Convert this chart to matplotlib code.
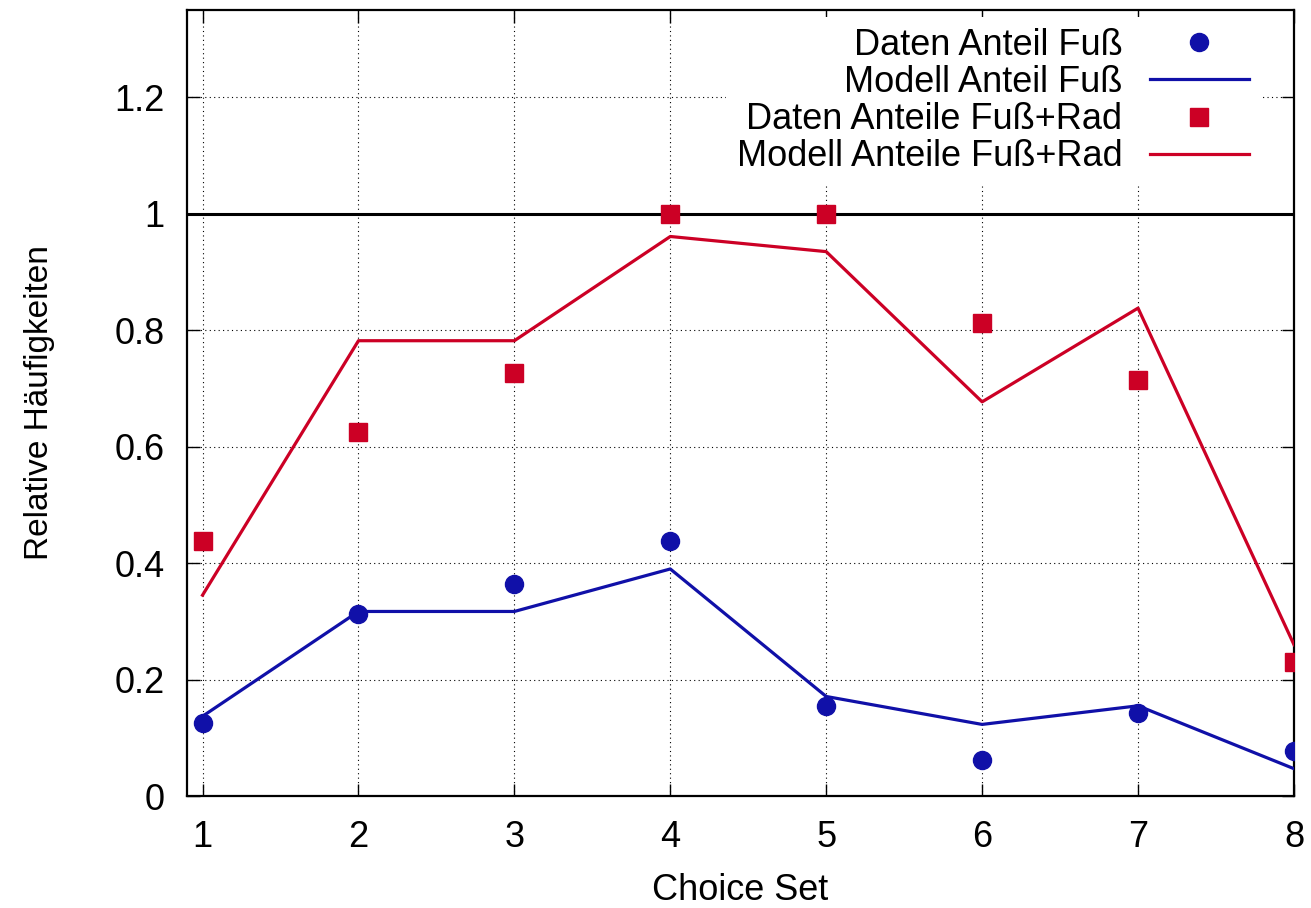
import numpy as np
import matplotlib
matplotlib.use('Agg')
import matplotlib.pyplot as plt
from matplotlib.ticker import FormatStrFormatter

plt.rcParams['font.family'] = ['Liberation Sans', 'DejaVu Sans']

# Anteile je Choice Set
choice_set = [1, 2, 3, 4, 5, 6, 7, 8]
daten_fuss = [0.125, 0.3125, 0.364, 0.4375, 0.154, 0.0625, 0.143, 0.077]
modell_fuss = [0.137, 0.317, 0.317, 0.390, 0.171, 0.123, 0.155, 0.047]
daten_fuss_rad = [0.4375, 0.625, 0.727, 1.0, 1.0, 0.8125, 0.714, 0.231]
modell_fuss_rad = [0.345, 0.782, 0.782, 0.961, 0.935, 0.677, 0.838, 0.260]

blau = '#1010a8'
rot = '#cc0025'
fs = 26

fig = plt.figure(figsize=(13.11, 9.08), dpi=100)
ax = fig.add_axes([0.1426, 0.1233, 0.8444, 0.8657])

ax.plot(choice_set, daten_fuss, 'o', color=blau, ms=13, label='Daten Anteil Fuß', zorder=4)
ax.plot(choice_set, modell_fuss, '-', color=blau, lw=2.3, label='Modell Anteil Fuß', zorder=3)
ax.plot(choice_set, daten_fuss_rad, 's', color=rot, ms=12.8, label='Daten Anteile Fuß+Rad', zorder=4)
ax.plot(choice_set, modell_fuss_rad, '-', color=rot, lw=2.3, label='Modell Anteile Fuß+Rad', zorder=3)
ax.axhline(1.0, color='black', lw=2.2, zorder=2)

ax.set_xlim(0.9, 8)
ax.set_ylim(0, 1.35)
ax.set_xticks(choice_set)
ax.set_yticks(np.arange(0, 1.3, 0.2))
ax.yaxis.set_major_formatter(FormatStrFormatter('%g'))
ax.tick_params(direction='in', length=9, width=1.0, labelsize=fs,
               top=True, right=True)
ax.tick_params(axis='y', pad=16)
ax.tick_params(axis='x', pad=17)
for s in ax.spines.values():
    s.set_linewidth(1.6)
ax.grid(True, color='black', lw=0.8, linestyle=(0, (1, 3)))
ax.set_axisbelow(True)

ax.set_xlabel('Choice Set', fontsize=fs, labelpad=13)
ax.set_ylabel('Relative Häufigkeiten', fontsize=24, labelpad=43)

# Legende: Text rechtsbündig links vom Symbol
leg = ax.legend(loc='upper right', bbox_to_anchor=(0.969, 0.991), fontsize=fs,
                markerfirst=False, frameon=True, fancybox=False,
                facecolor='white', edgecolor='none', framealpha=1,
                handlelength=2.75, handletextpad=0.75, labelspacing=0.06,
                borderpad=0.3, borderaxespad=0)
leg.set_zorder(5)

fig.savefig('out.png', dpi=100)
